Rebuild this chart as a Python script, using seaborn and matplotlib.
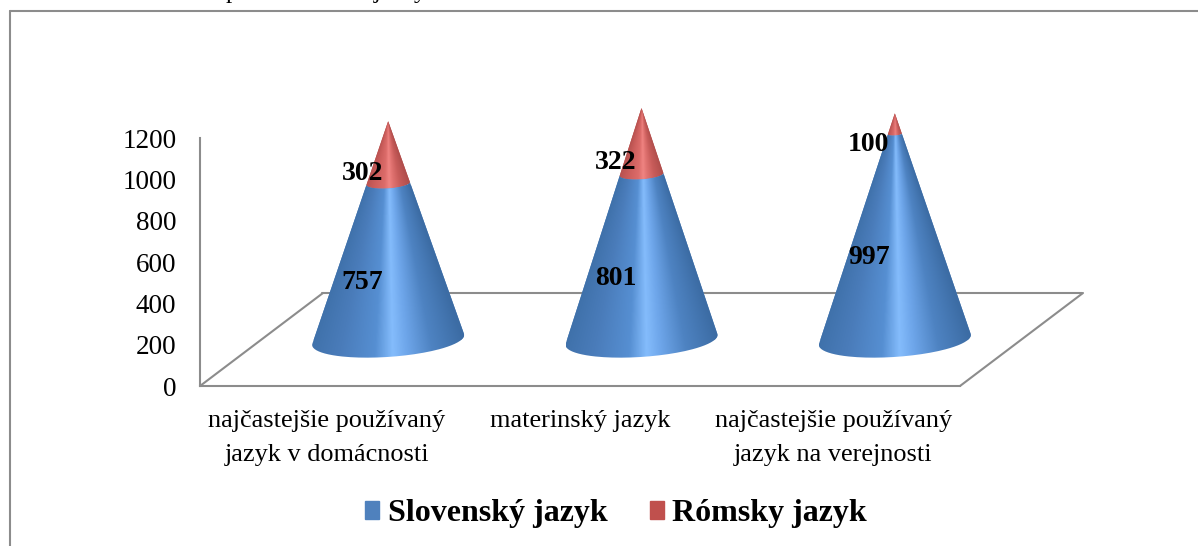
import numpy as np
import pandas as pd
import seaborn as sns
from matplotlib import pyplot as plt
from matplotlib.colors import LinearSegmentedColormap
from matplotlib.lines import Line2D
from matplotlib.patches import Patch
from matplotlib.path import Path
from matplotlib.transforms import Affine2D

# values
categories = ['najčastejšie používaný\njazyk v domácnosti', 'materinský jazyk',
              'najčastejšie používaný\njazyk na verejnosti']
slovensky = [757, 801, 997]
romsky = [302, 322, 100]
yticks = [0, 200, 400, 600, 800, 1000, 1200]
series_names = ['Slovenský jazyk', 'Rómsky jazyk']

W, H = 1198, 546
GRAY = '#8c8c8c'
BLUE = '#4f81bd'
RED = '#c0504d'

sns.set_theme(style='white')
plt.rcParams['font.family'] = ['Liberation Serif', 'DejaVu Serif']

fig = plt.figure(figsize=(W / 100, H / 100), dpi=100)
ax = fig.add_axes([200 / W, (H - 386) / H, 760 / W, 248 / H])

df = pd.DataFrame({'kat': categories, 'sk': slovensky, 'rom': romsky})
df['spolu'] = df['sk'] + df['rom']

# stacked = the sum in red first, slovak part in blue over it
sns.barplot(data=df, x='kat', y='spolu', color=RED, saturation=1, width=0.6, ax=ax)
sns.barplot(data=df, x='kat', y='sk', color=BLUE, saturation=1, width=0.6, ax=ax)

ax.set_xlim(-0.5, 2.5)
ax.set_ylim(0, 1200)
ax.set_xlabel('')
ax.set_ylabel('')
ax.set_yticks(yticks)
ax.tick_params(axis='both', length=0)
ax.tick_params(axis='y', labelsize=19.5, pad=17, labelcolor='black')
ax.tick_params(axis='x', labelsize=18.9, pad=17, labelcolor='black')
for lab in ax.get_xticklabels():
    lab.set_linespacing(1.7)
    lab.set_verticalalignment('top')

sns.despine(ax=ax, top=True, right=True)
for s in ['left', 'bottom']:
    ax.spines[s].set_color(GRAY)
    ax.spines[s].set_linewidth(1.5)

# floor of the 3D box, pushed back by a pixel offset
floor_tr = ax.transData + Affine2D().translate(122, 93)
back = Line2D([-0.5, 2.5], [0, 0], color=GRAY, lw=1.5, transform=floor_tr, clip_on=False, zorder=1)
ax.add_line(back)
x0, y0 = ax.transData.transform((-0.5, 0))
x1, y1 = ax.transData.transform((2.5, 0))
for xa in (x0, x1):
    fig.add_artist(Line2D([xa / W, (xa + 123) / W], [y0 / H, (y0 + 93) / H], color=GRAY, lw=1.5, zorder=1))

# cones: the bars stay, clipped to a cone shape, with a shading image on top
cone_tr = ax.transData + Affine2D().translate(61.5, 46)
blue_cmap = LinearSegmentedColormap.from_list('b', [(0, '#3f71aa'), (0.2, '#4a7cba'), (0.42, '#568fd2'),
                                                    (0.53, '#84bcfc'), (0.62, '#6ea6ea'), (0.78, '#4e83c2'),
                                                    (1, '#3c6ca4')])
red_cmap = LinearSegmentedColormap.from_list('r', [(0, '#b85250'), (0.2, '#cc5e5c'), (0.42, '#dc6c6a'),
                                                   (0.53, '#f08482'), (0.62, '#e07270'), (0.78, '#c85c5a'),
                                                   (1, '#b04e4c')])
ELL_B = 82   # ellipse half height in data units
ELL_TILT = 24

n = len(categories)
red_bars = ax.patches[:n]
blue_bars = ax.patches[n:]
t = np.linspace(np.pi - 0.08, 2 * np.pi + 0.08, 80)


def arc(cx, r, base, scale):
    return np.column_stack([cx + scale * r * np.cos(t),
                            base + scale * (ELL_B * np.sin(t) + ELL_TILT * np.cos(t))])


for rb, bb in zip(red_bars, blue_bars):
    r = rb.get_width() / 2
    cx = rb.get_x() + r
    total = rb.get_height()
    sk = bb.get_height()
    frac = 1 - sk / total

    low = arc(cx, r, 0, 1)
    seam = arc(cx, r, sk, frac)
    blue_path = Path(np.vstack([low, seam[::-1], low[:1]]))
    red_path = Path(np.vstack([[[cx, total]], seam, [[cx, total]]]))

    ys = np.linspace(-120, total, 500)
    xs = np.linspace(cx - r, cx + r, 300)
    X, Y = np.meshgrid(xs, ys)
    u = np.clip((X - cx) / (r * np.maximum(1 - Y / total, 1e-3)), -1, 1)

    for bar, path, cmap in [(rb, red_path, red_cmap), (bb, blue_path, blue_cmap)]:
        bar.set_transform(cone_tr)
        bar.set_clip_box(fig.bbox)
        bar.set_clip_path(path, transform=cone_tr)
        bar.set_zorder(2)
        im = ax.imshow(u, extent=(cx - r, cx + r, -120, total), origin='lower', cmap=cmap, vmin=-1, vmax=1,
                       aspect='auto', interpolation='bilinear', zorder=3, transform=cone_tr)
        im.set_clip_box(fig.bbox)
        im.set_clip_path(path, transform=cone_tr)

ax.set_xlim(-0.5, 2.5)
ax.set_ylim(0, 1200)

# data labels
for i, (a, b) in enumerate(zip(slovensky, romsky)):
    for val, mid in [(a, a / 2), (b, a + b / 2)]:
        ax.annotate(str(val), xy=(i, mid), xytext=(35.5 * 0.72, 25 * 0.72), textcoords='offset points',
                    ha='center', va='center', fontsize=20, fontweight='bold', color='black', zorder=5,
                    annotation_clip=False)

# legend
handles = [Patch(color=BLUE, label=series_names[0]), Patch(color=RED, label=series_names[1])]
fig.legend(handles=handles, loc='center', bbox_to_anchor=(616 / W, (H - 514) / H), ncol=2, frameon=False,
           prop={'weight': 'bold', 'size': 23}, handlelength=0.44, handleheight=0.48, handletextpad=0.26,
           columnspacing=1.32, labelcolor='black')

# outer frame: top and left only, the picture is cut on the other sides
fig.add_artist(Line2D([9.5 / W, 1], [1 - 10.5 / H, 1 - 10.5 / H], color=GRAY, lw=1.5))
fig.add_artist(Line2D([9.5 / W, 9.5 / W], [0, 1 - 10.5 / H], color=GRAY, lw=1.5))

# leftovers of the cut off heading line above the chart
for ch, px in [('p', 232), ('j', 377), ('y', 420)]:
    fig.text(px / W, 1 + 2 / H, ch, fontsize=18, color='black', ha='center', va='baseline')

fig.savefig('out.png', dpi=100)
